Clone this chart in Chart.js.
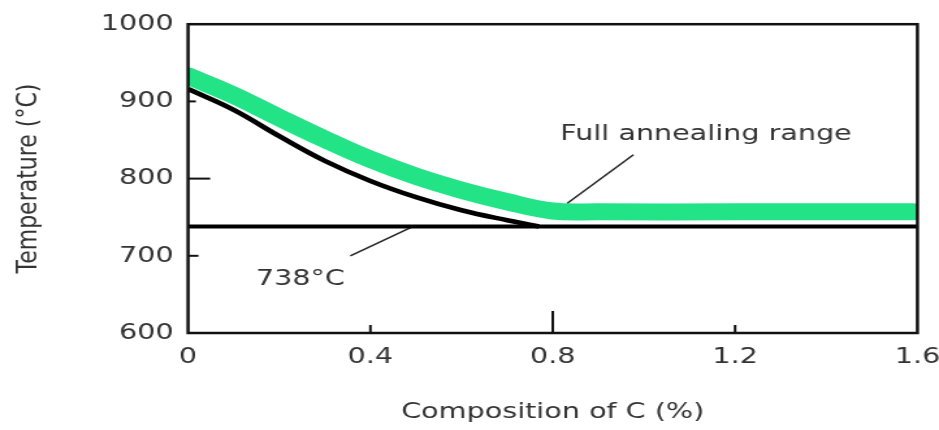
<!DOCTYPE html>
<html>
<head>
<meta charset="utf-8">
<script src="https://cdn.jsdelivr.net/npm/chart.js@4.4.1/dist/chart.umd.min.js"></script>
<style>
  html, body { margin: 0; padding: 0; background: #ffffff; overflow: hidden; }
  #wrap { width: 722px; height: 430px; transform: scaleX(1.30055); transform-origin: 0 0; }
</style>
</head>
<body>
<div id="wrap"><canvas id="c"></canvas></div>
<script>
// ---- data ----
const xTicks = [0, 0.4, 0.8, 1.2, 1.6];
const xTickLabels = ['0', '0.4', '0.8', '1.2', '1.6'];
const yTicks = [600, 700, 800, 900, 1000];
const yTickLabels = ['600', '700', '800', '900', '1000'];

// A3 / Acm boundary (black curve)
const boundaryC = [0, 0.1, 0.2, 0.3, 0.4, 0.5, 0.6, 0.7, 0.77];
const boundaryT = [916, 889, 855, 823, 797, 776, 759, 746, 738];

// Full annealing range (green band, centre line)
const annealC = [0, 0.1, 0.2, 0.3, 0.4, 0.5, 0.6, 0.7, 0.8, 0.9, 1.2, 1.59];
const annealT = [933, 908, 879, 851, 825, 803, 785, 770, 758, 757, 757, 757];

// A1 line
const a1C = [0, 1.6];
const a1T = [738, 738];

// annotation leaders and labels
const leaderAnnealC = [0.832, 0.977];
const leaderAnnealT = [768, 831];
const leaderA1C = [0.356, 0.494];
const leaderA1T = [700, 738];
const labelAnneal = { text: 'Full annealing range', c: 0.8165, t: 858 };
const labelA1 = { text: '738°C', c: 0.246, t: 669 };

const xTitle = 'Composition of C (%)';
const yTitle = 'Temperature (°C)';

// ---- helpers ----
const pts = (xs, ys) => xs.map((v, i) => ({ x: v, y: ys[i] }));
const FONT = 'DejaVu Sans';
const TEXT = '#333333';

const decor = {
  id: 'decor',
  afterDatasetsDraw(chart) {
    const { ctx, chartArea: a, scales: { x, y } } = chart;
    ctx.save();
    // frame
    ctx.strokeStyle = '#111111';
    ctx.lineWidth = 2.5;
    ctx.strokeRect(a.left, a.top, a.right - a.left, a.bottom - a.top);
    // inner tick marks
    ctx.lineWidth = 2;
    const xMarks = [[0.4, 8], [0.8, 22], [1.2, 8]];
    xMarks.forEach(([v, len]) => {
      const px = x.getPixelForValue(v);
      ctx.beginPath(); ctx.moveTo(px, a.bottom); ctx.lineTo(px, a.bottom - len); ctx.stroke();
    });
    const yMarks = [[900, 6], [800, 17], [700, 8]];
    yMarks.forEach(([v, len]) => {
      const py = y.getPixelForValue(v);
      ctx.beginPath(); ctx.moveTo(a.left, py); ctx.lineTo(a.left + len, py); ctx.stroke();
    });
    // labels
    ctx.font = '22px "' + FONT + '"';
    ctx.fillStyle = TEXT;
    ctx.textBaseline = 'middle';
    ctx.textAlign = 'left';
    ctx.fillText(labelAnneal.text, x.getPixelForValue(labelAnneal.c), y.getPixelForValue(labelAnneal.t));
    ctx.textAlign = 'center';
    ctx.fillText(labelA1.text, x.getPixelForValue(labelA1.c), y.getPixelForValue(labelA1.t));
    ctx.restore();
  }
};

new Chart(document.getElementById('c'), {
  type: 'line',
  data: {
    datasets: [
      { label: 'A1', data: pts(a1C, a1T), borderColor: '#000000', borderWidth: 4, pointRadius: 0, order: 1, clip: 0 },
      { label: 'Boundary', data: pts(boundaryC, boundaryT), borderColor: '#000000', borderWidth: 4.5, pointRadius: 0,
        tension: 0.4, order: 2, clip: 0 },
      { label: 'Leader anneal', data: pts(leaderAnnealC, leaderAnnealT), borderColor: '#222222', borderWidth: 1.5, pointRadius: 0, order: 3 },
      { label: 'Leader A1', data: pts(leaderA1C, leaderA1T), borderColor: '#222222', borderWidth: 1.5, pointRadius: 0, order: 4 },
      { label: 'Full annealing range', data: pts(annealC, annealT), borderColor: '#22e487', borderWidth: 17, pointRadius: 0,
        tension: 0.4, borderCapStyle: 'round', order: 5, clip: 0 }
    ]
  },
  options: {
    responsive: true,
    maintainAspectRatio: false,
    animation: false,
    events: [],
    layout: { padding: { left: 0, right: 16.6, top: 15, bottom: 0 } },
    plugins: { legend: { display: false }, tooltip: { enabled: false } },
    scales: {
      x: {
        type: 'linear', min: 0, max: 1.6,
        afterBuildTicks: s => { s.ticks = xTicks.map(v => ({ value: v })); },
        afterFit: s => { s.height = 97; s.paddingRight = 0; s.paddingLeft = 0; },
        grid: { display: false, drawTicks: false },
        border: { display: false },
        ticks: {
          padding: 11, color: TEXT, font: { family: FONT, size: 22 },
          maxRotation: 0, autoSkip: false,
          callback: v => { const i = xTicks.indexOf(v); return i >= 0 ? xTickLabels[i] : ''; }
        },
        title: { display: true, text: xTitle, color: TEXT, font: { family: FONT, size: 22 }, padding: { top: 0, bottom: 5 } }
      },
      y: {
        type: 'linear', min: 600, max: 1000,
        afterBuildTicks: s => { s.ticks = yTicks.map(v => ({ value: v })); },
        afterFit: s => { s.width = 144.6; },
        grid: { display: false, drawTicks: false },
        border: { display: false },
        ticks: {
          padding: 11, color: TEXT, font: { family: FONT, size: 22 },
          callback: v => { const i = yTicks.indexOf(v); return i >= 0 ? yTickLabels[i] : ''; }
        },
        title: { display: true, text: yTitle, color: TEXT, font: { family: FONT, size: 22 }, padding: { top: 9, bottom: 0 } }
      }
    }
  },
  plugins: [decor]
});
</script>
</body>
</html>
